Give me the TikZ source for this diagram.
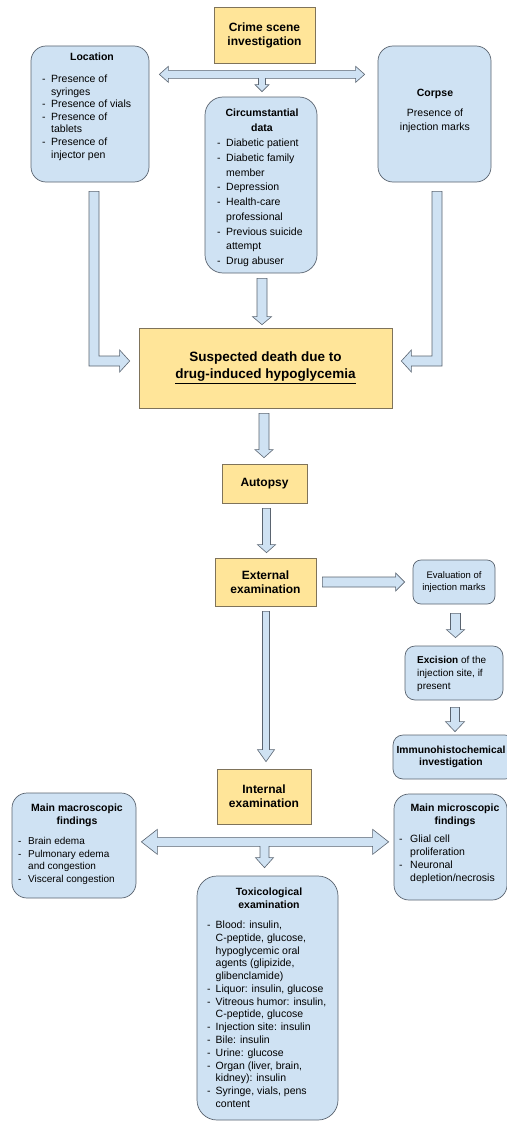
\documentclass[tikz,border=0pt]{standalone}
\usepackage{fontspec}
\setmainfont{Liberation Sans}
\usetikzlibrary{calc}
\definecolor{bfill}{HTML}{CFE2F3}
\definecolor{yfill}{HTML}{FFE599}
\definecolor{bord}{HTML}{5A6470}
\definecolor{ybord}{HTML}{7F735A}
\newcommand{\mkC}[1]{\begin{tabular}[t]{@{}c@{}}#1\end{tabular}}
\newcommand{\mkL}[1]{\begin{tabular}[t]{@{}l@{}}#1\end{tabular}}
\newcommand{\lidash}[2]{\makebox[#1][l]{-}#2}
\newcommand{\licont}[2]{\hspace*{#1}#2}
\newcommand{\downblk}[5]{%
  \draw[blk] ($(#1)+(-#3,0)$) -- ($(#1|-#2)+(-#3,-#5)$) -- ($(#1|-#2)+(-#4,-#5)$) -- (#1|-#2) -- ($(#1|-#2)+(#4,-#5)$) -- ($(#1|-#2)+(#3,-#5)$) -- ($(#1)+(#3,0)$) -- cycle;}
\newcommand{\rightblk}[5]{%
  \draw[blk] ($(#1)+(0,-#3)$) -- ($(#2|-#1)+(-#5,-#3)$) -- ($(#2|-#1)+(-#5,-#4)$) -- (#2|-#1) -- ($(#2|-#1)+(-#5,#4)$) -- ($(#2|-#1)+(-#5,#3)$) -- ($(#1)+(0,#3)$) -- cycle;}
\begin{document}
\begin{tikzpicture}[x=1pt,y=-1pt,
  bluebox/.style={draw=bord, fill=bfill, line width=0.7pt, rounded corners=#1, inner sep=0pt},
  bluebox/.default=15pt,
  ybox/.style={draw=ybord, fill=yfill, line width=0.7pt, inner sep=0pt, align=center, font=\fontsize{12}{14}\selectfont\bfseries},
  blk/.style={draw=bord, fill=bfill, line width=0.6pt, line join=miter},
  ttl/.style={inner sep=0pt, anchor=base, font=\fontsize{10.5}{#1}\selectfont\bfseries},
  ttl/.default=13,
  lst/.style={inner sep=0pt, anchor=base west, font=\fontsize{10.5}{#1}\selectfont},
  lst/.default=12.6,
  ctx/.style={inner sep=0pt, anchor=base, font=\fontsize{10.5}{#1}\selectfont},
  ctx/.default=14]
\fill[white] (0,0) rectangle (506,1124);
\useasboundingbox (0,0) rectangle (506,1124);

% ---------- top level ----------
\node[ybox, minimum width=101pt, minimum height=56pt] (crime) at (264.5,35) {Crime scene\\investigation};

\node[bluebox=15pt, minimum width=118pt, minimum height=136pt] (loc) at (90,114) {};
\node[ttl] (locT) at (92,60.5) {Location};
\node[lst=12.6] (locL) at (42,82.5) {\mkL{\lidash{9pt}{Presence of}\\ \licont{9pt}{syringes}\\ \lidash{9pt}{Presence of vials}\\ \lidash{9pt}{Presence of}\\ \licont{9pt}{tablets}\\ \lidash{9pt}{Presence of}\\ \licont{9pt}{injector pen}}};

\node[bluebox=15pt, minimum width=113pt, minimum height=136pt] (corpse) at (434.5,114) {};
\node[ttl] (corT) at (435,96.5) {Corpse};
\node[ctx=14] (corB) at (435,116.5) {\mkC{Presence of\\injection marks}};

\node[bluebox=18pt, minimum width=112pt, minimum height=176pt] (circ) at (261,185) {};
\node[ttl=15] (circT) at (262,116.5) {\mkC{Circumstantial\\data}};
\node[lst=14.75] (circL) at (217,146.5) {\mkL{\lidash{9pt}{Diabetic patient}\\ \lidash{9pt}{Diabetic family}\\ \licont{9pt}{member}\\ \lidash{9pt}{Depression}\\ \lidash{9pt}{Health-care}\\ \licont{9pt}{professional}\\ \lidash{9pt}{Previous suicide}\\ \licont{9pt}{attempt}\\ \lidash{9pt}{Drug abuser}}};

\node[ybox, minimum width=253pt, minimum height=80pt, font=\fontsize{13.5}{17}\selectfont\bfseries] (susp) at (265.5,368) {Suspected death due to\\\underline{drug-induced hypoglycemia}};

\node[ybox, minimum width=85pt, minimum height=39pt] (aut) at (264.5,483.5) {Autopsy};
\node[ybox, minimum width=101pt, minimum height=48pt] (ext) at (265.5,582) {External\\examination};

\node[bluebox=8pt, minimum width=82pt, minimum height=44pt, align=center, font=\fontsize{9.5}{11.5}\selectfont] (eval) at (454,582) {Evaluation of\\injection marks};
\node[bluebox=10pt, minimum width=98pt, minimum height=54pt] (exc) at (454,673) {};
\node[lst=13, font=\fontsize{10}{13}\selectfont] (excL) at (417,663.5) {\mkL{\textbf{Excision} of the\\injection site, if\\present}};
\node[bluebox=10pt, minimum width=122pt, minimum height=44pt] (imm) at (454,757) {};
\node[inner sep=0pt, align=center, font=\fontsize{10.3}{12.5}\selectfont\bfseries] (immT) at (451,757) {Immunohistochemical\\investigation};

\node[ybox, minimum width=94pt, minimum height=55pt] (int) at (264,796.5) {Internal\\examination};

\node[bluebox=15pt, minimum width=124pt, minimum height=105pt] (mac) at (74,845.5) {};
\node[ttl] (macT) at (77,811.5) {\mkC{Main macroscopic\\findings}};
\node[lst=12.7, font=\fontsize{10}{12.7}\selectfont] (macL) at (18,844.5) {\mkL{\lidash{10pt}{Brain edema}\\ \lidash{10pt}{Pulmonary edema}\\ \licont{10pt}{and congestion}\\ \lidash{10pt}{Visceral congestion}}};

\node[bluebox=15pt, minimum width=113pt, minimum height=106pt] (mic) at (450.5,847) {};
\node[ttl] (micT) at (455,811.5) {\mkC{Main microscopic\\findings}};
\node[lst=13] (micL) at (399,842.5) {\mkL{\lidash{11pt}{Glial cell}\\ \licont{11pt}{proliferation}\\ \lidash{11pt}{Neuronal}\\ \licont{11pt}{depletion/necrosis}}};

\node[bluebox=20pt, minimum width=141pt, minimum height=244pt] (tox) at (267.5,998) {};
\node[ttl=12.5] (toxT) at (269,895.5) {\mkC{Toxicological\\examination}};
\node[lst=12.78] (toxL) at (207,928.5) {\mkL{\lidash{8.5pt}{Blood: insulin,}\\ \licont{8.5pt}{C-peptide, glucose,}\\ \licont{8.5pt}{hypoglycemic oral}\\ \licont{8.5pt}{agents (glipizide,}\\ \licont{8.5pt}{glibenclamide)}\\ \lidash{8.5pt}{Liquor: insulin, glucose}\\ \lidash{8.5pt}{Vitreous humor: insulin,}\\ \licont{8.5pt}{C-peptide, glucose}\\ \lidash{8.5pt}{Injection site: insulin}\\ \lidash{8.5pt}{Bile: insulin}\\ \lidash{8.5pt}{Urine: glucose}\\ \lidash{8.5pt}{Organ (liver, brain,}\\ \licont{8.5pt}{kidney): insulin}\\ \lidash{8.5pt}{Syringe, vials, pens}\\ \licont{8.5pt}{content}}};

% ---------- block arrows ----------
% top double arrow with branch
\coordinate (DL) at ($(loc.east|-crime.south)+(10,11)$);
\coordinate (DR) at ($(corpse.west|-crime.south)+(-13,11)$);
\coordinate (DD) at ($(crime.south|-circ.north)+(-2.5,-5)$);
\draw[blk] (DL) -- ($(DL)+(9,-8)$) -- ($(DL)+(9,-4)$) -- ($(DR)+(-9,-4)$) -- ($(DR)+(-9,-8)$) -- (DR) -- ($(DR)+(-9,8)$) -- ($(DR)+(-9,4)$) -- ($(DD|-DL)+(3.5,4)$) -- ($(DD)+(3.5,-7)$) -- ($(DD)+(7,-7)$) -- (DD) -- ($(DD)+(-7,-7)$) -- ($(DD)+(-3.5,-7)$) -- ($(DD|-DL)+(-3.5,4)$) -- ($(DL)+(9,4)$) -- ($(DL)+(9,8)$) -- cycle;

% left L arrow
\coordinate (LV) at ($(loc.south)+(4,9)$);
\coordinate (LT) at ($(susp.west)+(-9,-7)$);
\draw[blk] ($(LV)+(-5,0)$) -- ($(LV)+(5,0)$) -- ($(LV|-LT)+(5,-5)$) -- ($(LT)+(-10,-5)$) -- ($(LT)+(-10,-11)$) -- (LT) -- ($(LT)+(-10,11)$) -- ($(LT)+(-10,5)$) -- ($(LV|-LT)+(-5,5)$) -- cycle;

% right L arrow
\coordinate (RV) at ($(corpse.south)+(2.5,9)$);
\coordinate (RT) at ($(susp.east)+(9,-7)$);
\draw[blk] ($(RV)+(5,0)$) -- ($(RV)+(-5,0)$) -- ($(RV|-RT)+(-5,-5)$) -- ($(RT)+(10,-5)$) -- ($(RT)+(10,-11)$) -- (RT) -- ($(RT)+(10,11)$) -- ($(RT)+(10,5)$) -- ($(RV|-RT)+(5,5)$) -- cycle;

% vertical arrows
\coordinate (a1s) at ($(circ.south)+(1,5)$);   \coordinate (a1e) at ($(susp.north)+(0,-3)$);
\downblk{a1s}{a1e}{5}{9.5}{8}
\coordinate (a2s) at ($(susp.south)+(-1.5,5)$); \coordinate (a2e) at ($(aut.north)+(0,-6)$);
\downblk{a2s}{a2e}{5}{9}{8}
\coordinate (a3s) at ($(aut.south)+(2,5)$);    \coordinate (a3e) at ($(ext.north)+(0,-5)$);
\downblk{a3s}{a3e}{4}{9}{8}
\coordinate (a4s) at ($(ext.south)+(0.5,5)$);  \coordinate (a4e) at ($(int.north)+(0,-7)$);
\downblk{a4s}{a4e}{3.5}{8.5}{12}
\coordinate (a5s) at ($(eval.south)+(1.5,9)$); \coordinate (a5e) at ($(exc.north)+(0,-8)$);
\downblk{a5s}{a5e}{5}{9}{8}
\coordinate (a6s) at ($(exc.south)+(1,7)$);    \coordinate (a6e) at ($(imm.north)+(0,-3)$);
\downblk{a6s}{a6e}{4.5}{9.5}{10}

% horizontal arrow external -> evaluation
\coordinate (h1s) at ($(ext.east)+(6,0)$);     \coordinate (h1e) at ($(eval.west)+(-8,0)$);
\rightblk{h1s}{h1e}{5}{9}{9}

% bottom double arrow with branch
\coordinate (BL) at ($(mac.east|-int.south)+(5,17.5)$);
\coordinate (BR) at ($(mic.west|-int.south)+(-5,17.5)$);
\coordinate (BD) at ($(int.south|-tox.north)+(0.5,-8)$);
\draw[blk] (BL) -- ($(BL)+(16,-12.5)$) -- ($(BL)+(16,-4.5)$) -- ($(BR)+(-16,-4.5)$) -- ($(BR)+(-16,-12.5)$) -- (BR) -- ($(BR)+(-16,12.5)$) -- ($(BR)+(-16,4.5)$) -- ($(BD|-BL)+(4.5,4.5)$) -- ($(BD)+(4.5,-10)$) -- ($(BD)+(9,-10)$) -- (BD) -- ($(BD)+(-9,-10)$) -- ($(BD)+(-4.5,-10)$) -- ($(BD|-BL)+(-4.5,4.5)$) -- ($(BL)+(16,4.5)$) -- ($(BL)+(16,12.5)$) -- cycle;
\end{tikzpicture}
\end{document}
